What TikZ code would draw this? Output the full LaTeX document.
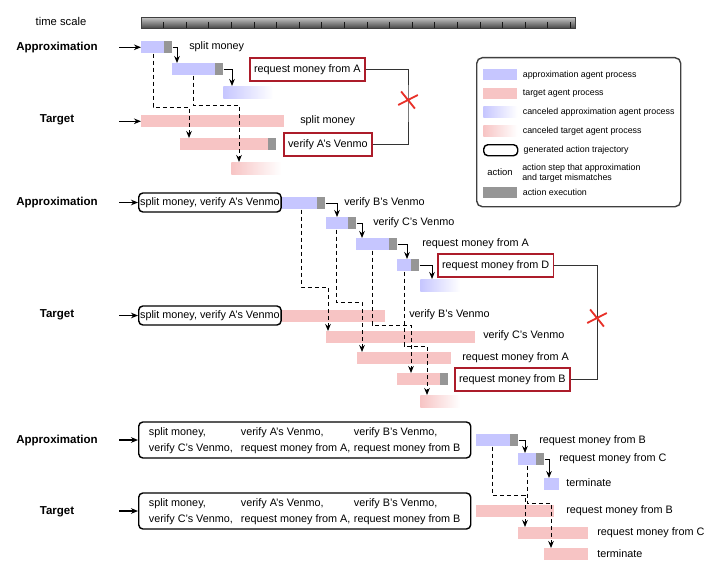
\documentclass[tikz,border=0pt]{standalone}
\usepackage{fontspec}
\setmainfont{Liberation Sans}
\usepackage{tikz}
\usetikzlibrary{positioning,calc,arrows.meta,shapes.misc}
\definecolor{approxblue}{RGB}{198,198,255}
\definecolor{targetpink}{RGB}{247,196,196}
\definecolor{execgray}{RGB}{150,150,150}
\definecolor{mismatchred}{RGB}{172,28,42}
\definecolor{crossred}{RGB}{232,48,40}
\tikzset{
  approx/.style    = {fill=approxblue, inner sep=0pt, minimum height=0.3cm},
  target/.style    = {fill=targetpink, inner sep=0pt, minimum height=0.3cm},
  approxcut/.style = {left color=approxblue, right color=white, inner sep=0pt, minimum height=0.3cm},
  targetcut/.style = {left color=targetpink, right color=white, inner sep=0pt, minimum height=0.3cm},
  exec/.style      = {fill=execgray, inner sep=0pt, minimum width=0.2cm, minimum height=0.3cm},
  swatch/.style    = {minimum width=0.85cm, minimum height=0.275cm, anchor=north west},
  steptext/.style  = {inner sep=0pt, anchor=west, font=\fontsize{7.7}{9}\selectfont},
  agent/.style     = {inner sep=0pt, font=\fontsize{8.2}{10}\selectfont\bfseries},
  timelabel/.style = {inner sep=0pt, font=\fontsize{8}{10}\selectfont},
  timebar/.style   = {top color=black!22, bottom color=black!72, draw=black!75, line width=0.3pt,
                      inner sep=0pt, minimum height=0.275cm, anchor=north west},
  scaletick/.style = {line width=0.6pt, black!90},
  mismatch/.style  = {draw=mismatchred, line width=1.2pt, fill=white, inner xsep=3pt, inner ysep=0pt,
                      minimum height=0.575cm, anchor=west, font=\fontsize{7.7}{9}\selectfont},
  traj/.style      = {draw, line width=1pt, rounded corners=3pt, inner xsep=1pt, inner ysep=0pt,
                      font=\fontsize{7.7}{9}\selectfont},
  trajwide/.style  = {traj, font=\fontsize{7.7}{11.4}\selectfont, anchor=west,
                      minimum width=332*0.025cm, minimum height=36*0.025cm},
  legtext/.style   = {inner sep=0pt, anchor=west, align=left, font=\fontsize{6.3}{7.2}\selectfont},
  legframe/.style  = {draw=black!75, line width=1pt, rounded corners=4pt, inner sep=0pt, anchor=north west},
  badmark/.style   = {cross out, draw=crossred, line width=1.3pt, inner sep=0pt, rotate=-12,
                      minimum width=0.38cm, minimum height=0.3cm},
  mismatchlink/.style = {line width=0.7pt, black!80},
  nextstep/.style  = {->, line width=0.7pt},
  handoff/.style   = {->, line width=0.7pt, dash pattern=on 3pt off 2pt},
  entry/.style     = {->, line width=0.8pt},
  >={Stealth[length=5pt,width=4pt]}
}
\newcommand{\ProcBar}[5]{%
  % one process step: name, style, left x, top y, width (px)
  \node[#2, minimum width=#5*0.025cm, anchor=north west] (#1) at (#3,#4) {};
}
\newcommand{\ExecMark}[1]{%
  % grey action execution at the right end of the step
  \node[exec, anchor=north east] (#1x) at (#1.north east) {};
}
\newcommand{\NextStep}[3]{%
  % execution of #1 starts step #2, entering at x=#3
  \draw[nextstep] (#1x.east) -| (#3,0 |- #2.north);
}
\newcommand{\Handoff}[5]{%
  % dashed hand-over from approximation #1 (x=#2) to target #4 (x=#5), turning at y=#3
  \draw[handoff] (#2,0 |- #1.south) |- (#5,#3) -- (#5,0 |- #4.north);
}
\newcommand{\TrajRows}{%
  \begin{tabular}{@{}p{2.3cm}@{}p{2.825cm}@{}l@{}}
    split money, & verify A's Venmo, & verify B's Venmo,\\
    verify C's Venmo, & request money from A, & request money from B
  \end{tabular}}

\begin{document}
\begin{tikzpicture}[x=0.025cm, y=-0.025cm]
  \useasboundingbox (0,0) rectangle (720,571);

  % time scale
  \node[timelabel] (tslabel) at (61,21) {time scale};
  \node[timebar, minimum width=434*0.025cm] (ts) at (141,17) {};
  \foreach \k in {1,...,19}
    \draw[scaletick] ($(ts.south west)+(\k*22.6,0)$) -- ++(0,-6);

  % legend
  \node[legframe, minimum width=204*0.025cm, minimum height=149*0.025cm] (legend) at (476,57) {};
  \node[approx, swatch] (lg1) at (483,69) {};
  \node[legtext, right=0.125cm of lg1] {approximation agent process};
  \node[target, swatch] (lg2) at (483,88) {};
  \node[legtext, right=0.125cm of lg2] {target agent process};
  \node[approxcut, swatch] (lg3) at (483,106) {};
  \node[legtext, right=0.125cm of lg3] {canceled approximation agent process};
  \node[targetcut, swatch] (lg4) at (483,125) {};
  \node[legtext, right=0.125cm of lg4] {canceled target agent process};
  \node[traj, swatch] (lg5) at (483,144) {};
  \node[legtext, right=0.125cm of lg5] {generated action trajectory};
  \node[legtext, anchor=center, font=\fontsize{6.7}{8}\selectfont] (lg6) at (500,172) {action};
  \node[legtext] (lg6t) at (522,173) {action step that approximation\\and target mismatches};
  \node[exec, swatch] (lg7) at (483,187) {};
  \node[legtext, right=0.125cm of lg7] {action execution};

  % first run
  \node[agent] (app1) at (57,48) {Approximation};
  \node[agent] (tar1) at (57,120) {Target};
  \ProcBar{a11}{approx}{141}{41}{31}\ExecMark{a11}
  \ProcBar{a12}{approx}{172}{63}{51}\ExecMark{a12}
  \ProcBar{a13}{approxcut}{223}{86}{50}
  \ProcBar{t11}{target}{141}{115}{143}
  \ProcBar{t12}{target}{180}{138}{96}\ExecMark{t12}
  \ProcBar{t13}{targetcut}{231}{162}{50}
  \draw[entry] (119,0 |- a11.west) -- (a11.west);
  \draw[entry] (119,0 |- t11.west) -- (t11.west);
  \NextStep{a11}{a12}{177}
  \NextStep{a12}{a13}{232}
  \Handoff{a11}{153}{107}{t12}{189}
  \Handoff{a12}{193}{105}{t13}{239}
  \node[steptext] (s11) at (189,47) {split money};
  \node[steptext] (s12) at (300,121) {split money};
  \node[mismatch] (m1a) at (249,69.5) {request money from A};
  \node[mismatch] (m1t) at (283,144.5) {verify A's Venmo};
  \coordinate (x1) at (408,100);
  \draw[mismatchlink] (m1a.east) -| (x1) |- (m1t.east);
  \node[badmark] (x1mark) at (x1) {};

  % second run
  \node[agent] (app2) at (57,203) {Approximation};
  \node[agent] (tar2) at (57,315) {Target};
  \node[traj, anchor=west, minimum height=19*0.025cm] (tr2a) at (138,202.5) {split money, verify A's Venmo};
  \node[traj, anchor=west, minimum height=19*0.025cm] (tr2t) at (138,315.5) {split money, verify A's Venmo};
  \draw[entry] (119,0 |- tr2a.west) -- (tr2a.west);
  \draw[entry] (119,0 |- tr2t.west) -- (tr2t.west);
  \ProcBar{a21}{approx}{282}{197}{43}\ExecMark{a21}
  \ProcBar{a22}{approx}{326}{217}{30}\ExecMark{a22}
  \ProcBar{a23}{approx}{356}{238}{41}\ExecMark{a23}
  \ProcBar{a24}{approx}{397}{259}{22}\ExecMark{a24}
  \ProcBar{a25}{approxcut}{420}{279}{40}
  \ProcBar{t21}{target}{282}{310}{103}
  \ProcBar{t22}{target}{326}{331}{149}
  \ProcBar{t23}{target}{357}{352}{94}
  \ProcBar{t24}{target}{397}{373}{51}\ExecMark{t24}
  \ProcBar{t25}{targetcut}{420}{395}{40}
  \NextStep{a21}{a22}{337}
  \NextStep{a22}{a23}{362}
  \NextStep{a23}{a24}{407}
  \NextStep{a24}{a25}{432}
  \Handoff{a21}{301}{287}{t22}{328}
  \Handoff{a22}{336}{302}{t23}{362}
  \Handoff{a23}{372}{325}{t24}{411}
  \Handoff{a24}{404}{346}{t25}{427}
  \node[steptext] (s21) at (344,203) {verify B's Venmo};
  \node[steptext] (s22) at (373,223) {verify C's Venmo};
  \node[steptext] (s23) at (422,244) {request money from A};
  \node[steptext] (s24) at (409,315) {verify B's Venmo};
  \node[steptext] (s25) at (483,336) {verify C's Venmo};
  \node[steptext] (s26) at (462,358) {request money from A};
  \node[mismatch] (m2a) at (437,265.5) {request money from D};
  \node[mismatch] (m2t) at (454,379.5) {request money from B};
  \coordinate (x2) at (597,318);
  \draw[mismatchlink] (m2a.east) -| (x2) |- (m2t.east);
  \node[badmark] (x2mark) at (x2) {};

  % third run
  \node[agent] (app3) at (57,441) {Approximation};
  \node[agent] (tar3) at (57,512) {Target};
  \node[trajwide] (tr3a) at (138,440) {\TrajRows};
  \node[trajwide] (tr3t) at (138,511) {\TrajRows};
  \draw[entry] (119,0 |- tr3a.west) -- (tr3a.west);
  \draw[entry] (119,0 |- tr3t.west) -- (tr3t.west);
  \ProcBar{a31}{approx}{476}{434}{42}\ExecMark{a31}
  \ProcBar{a32}{approx}{518}{453}{26}\ExecMark{a32}
  \ProcBar{a33}{approx}{544}{478}{15}
  \ProcBar{t31}{target}{476}{505}{78}
  \ProcBar{t32}{target}{518}{527}{70}
  \ProcBar{t33}{target}{544}{548}{44}
  \NextStep{a31}{a32}{525}
  \NextStep{a32}{a33}{549}
  \Handoff{a31}{492}{495}{t32}{525}
  \Handoff{a32}{527}{503}{t33}{551}
  \node[steptext] (s31) at (539,441) {request money from B};
  \node[steptext] (s32) at (559,459) {request money from C};
  \node[steptext] (s33) at (566,483) {terminate};
  \node[steptext] (s34) at (566,511) {request money from B};
  \node[steptext] (s35) at (597,533) {request money from C};
  \node[steptext] (s36) at (597,554) {terminate};
\end{tikzpicture}
\end{document}
